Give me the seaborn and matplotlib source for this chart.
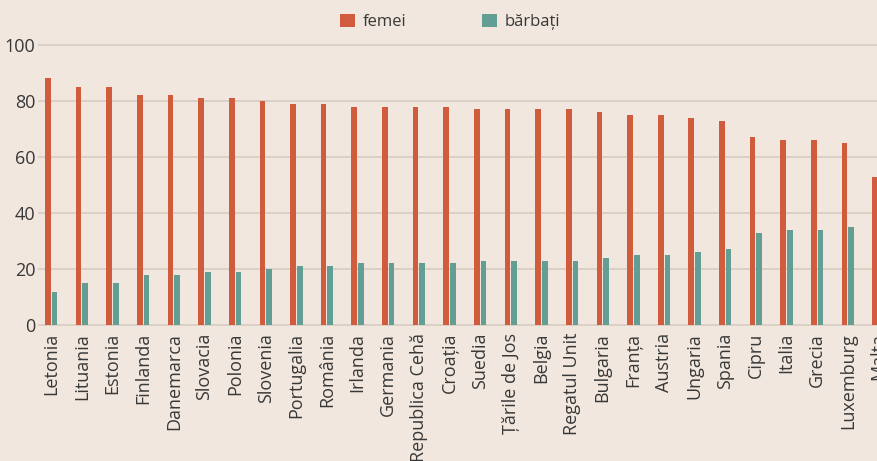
import matplotlib
matplotlib.use("Agg")
import matplotlib.pyplot as plt
from matplotlib.patches import Patch
import pandas as pd
import seaborn as sns

TARI = [
    "Letonia", "Lituania", "Estonia", "Finlanda", "Danemarca", "Slovacia",
    "Polonia", "Slovenia", "Portugalia", "România", "Irlanda", "Germania",
    "Republica Cehă", "Croația", "Suedia", "Țările de Jos", "Belgia",
    "Regatul Unit", "Bulgaria", "Franța", "Austria", "Ungaria", "Spania",
    "Cipru", "Italia", "Grecia", "Luxemburg", "Malta",
]
FEMEI = [88, 85, 85, 82, 82, 81, 81, 80, 79, 79, 78, 78, 78, 78, 77, 77, 77,
         77, 76, 75, 75, 74, 73, 67, 66, 66, 65, 53]
BARBATI = [12, 15, 15, 18, 18, 19, 19, 20, 21, 21, 22, 22, 22, 22, 23, 23, 23,
           23, 24, 25, 25, 26, 27, 33, 34, 34, 35, 47]
Y_TICKS = [0, 20, 40, 60, 80, 100]

BG = "#f1e7de"
COLORS = {"femei": "#d05c3d", "bărbați": "#639e95"}
TEXT = "#383838"

df = pd.concat([
    pd.DataFrame({"tara": TARI, "sex": "femei", "valoare": FEMEI}),
    pd.DataFrame({"tara": TARI, "sex": "bărbați", "valoare": BARBATI}),
])

sns.set_theme(style="white")
plt.rcParams["font.family"] = ["Open Sans", "DejaVu Sans"]

fig = plt.figure(figsize=(8.77, 4.61), dpi=100, facecolor=BG)
# axes runs past the right edge on purpose, the source image is cropped there
ax = fig.add_axes([38 / 877, 135 / 461, 858.9 / 877, (326 - 44) / 461])
ax.set_facecolor(BG)

sns.barplot(data=df, x="tara", y="valoare", hue="sex", palette=COLORS,
            width=0.436, gap=0.15, ax=ax, legend=False, saturation=1,
            linewidth=0)

ax.set_xlim(-0.431, 27.6)
ax.set_ylim(-0.3, 100.3)
ax.set_yticks(Y_TICKS)
ax.yaxis.grid(True, color="#d6ccc2", linewidth=1.2)
ax.set_axisbelow(True)
for s in ax.spines.values():
    s.set_visible(False)
ax.set_xlabel("")
ax.set_ylabel("")
ax.tick_params(axis="y", length=0, pad=2, labelsize=13, labelcolor=TEXT)
ax.tick_params(axis="x", length=0, pad=5, labelsize=13, labelcolor=TEXT,
               labelrotation=90)

handles = [Patch(facecolor=COLORS[k], edgecolor="none") for k in COLORS]
fig.legend(handles, list(COLORS), loc="center", bbox_to_anchor=(450 / 877, 1 - 22 / 461),
           ncol=2, frameon=False, fontsize=12, handlelength=0.9, handleheight=0.9,
           handletextpad=0.5, columnspacing=4.5, labelcolor=TEXT)

fig.savefig("out.png", dpi=100, facecolor=BG)
